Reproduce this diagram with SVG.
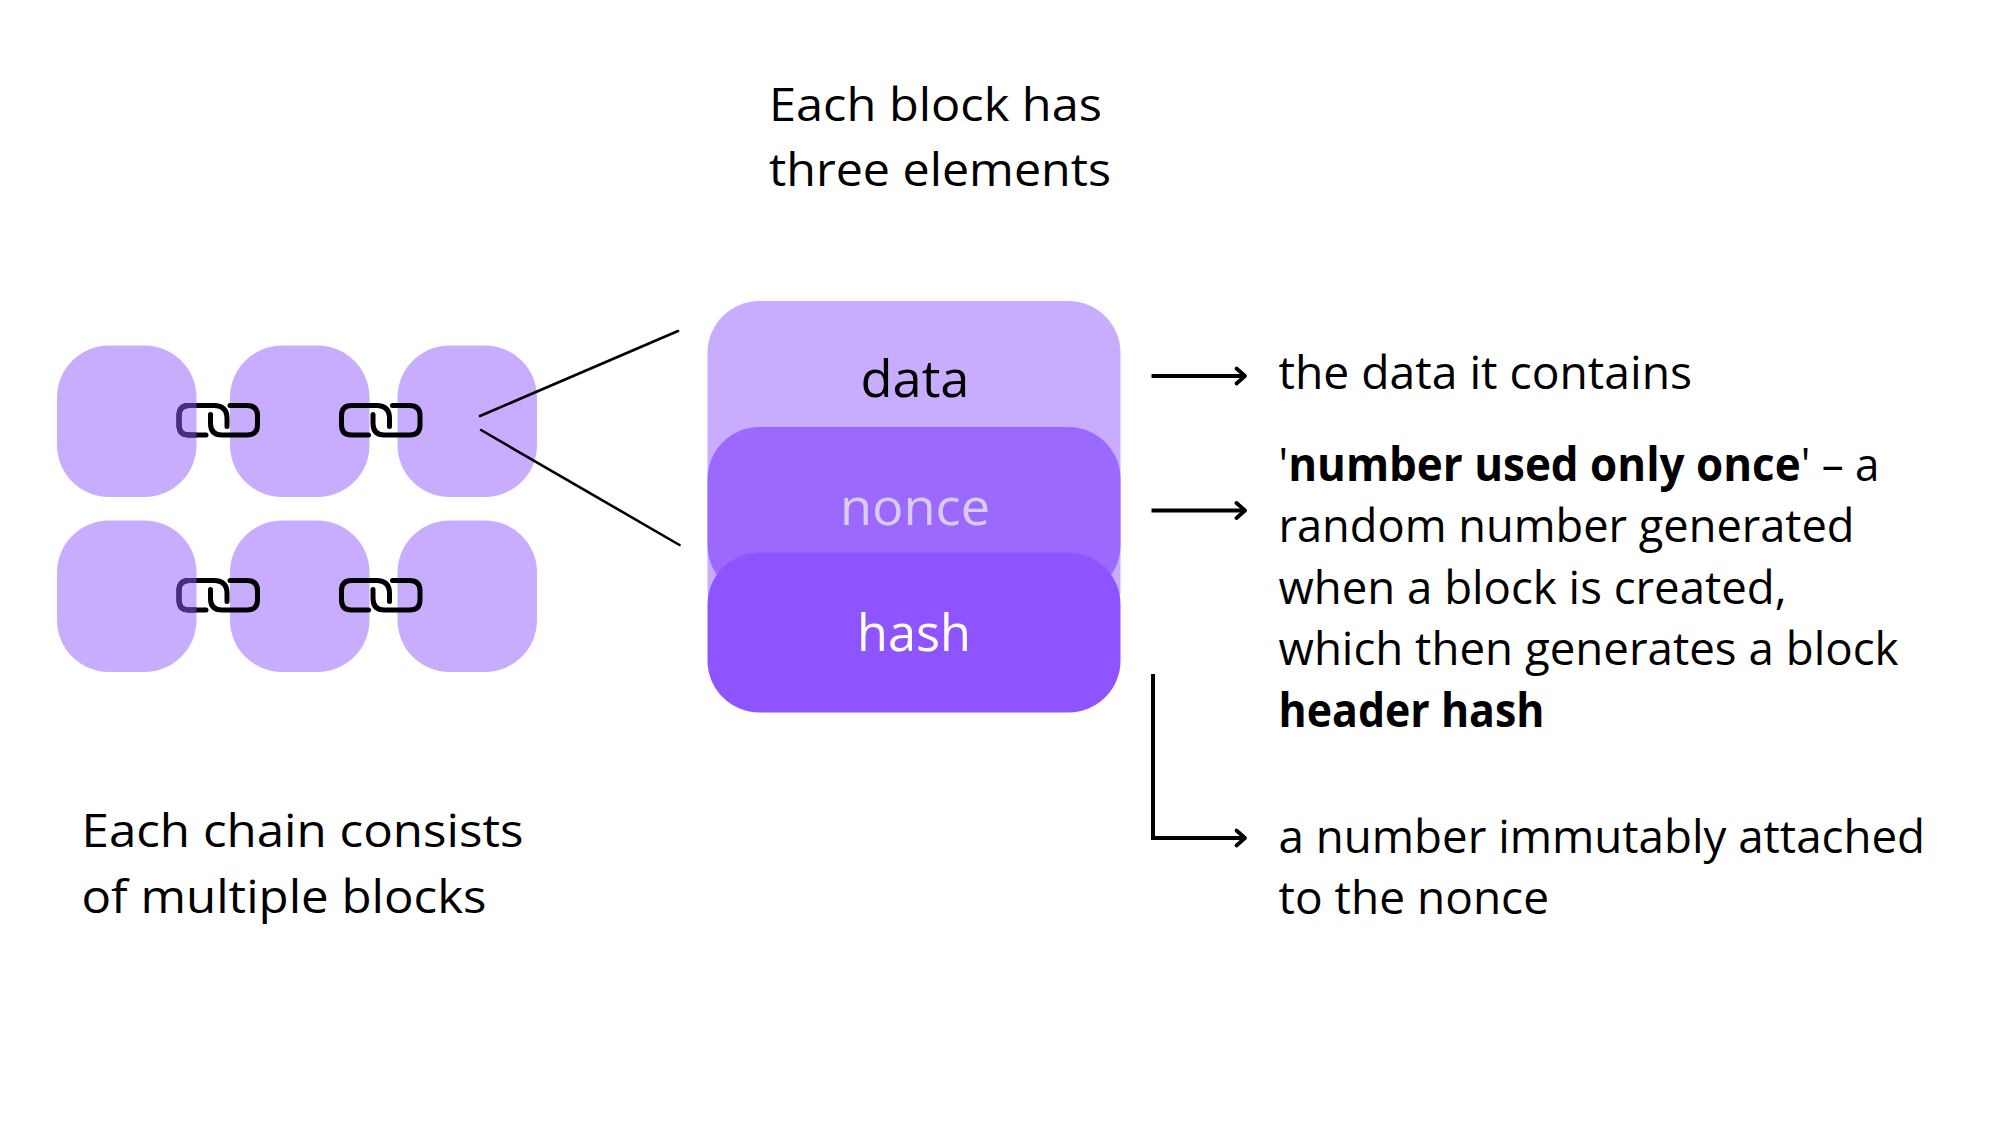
<svg xmlns="http://www.w3.org/2000/svg" width="1999" height="1125" viewBox="0 0 1999 1125">
<style>
.t{font-family:"Open Sans","Noto Sans",sans-serif;font-size:46px;fill:#000}
.c{font-size:52px;text-anchor:middle}
.b{font-weight:700}
.blk{fill:#C8ADFF}
.fan{fill:none;stroke:#000;stroke-width:2.6;stroke-linecap:round}
.arr{fill:none;stroke:#000;stroke-width:4;marker-end:url(#head)}
.lk{fill:none;stroke:#000;stroke-width:5;stroke-linecap:round}
</style>
<defs>
<marker id="head" markerUnits="userSpaceOnUse" markerWidth="20" markerHeight="24" refX="13" refY="12" orient="auto">
<path d="M4.500 4.500L13 12L4.500 19.500" fill="none" stroke="#000" stroke-width="3.800" stroke-linecap="round" stroke-linejoin="round"/>
</marker>
<g id="link">
<path d="M29 31.500H12Q2 31.500 2 21.500V12Q2 2 12 2H37Q50 2 50 15V23"/>
<path d="M53 2H70Q80.500 2 80.500 12V21.500Q80.500 31.500 70 31.500H45Q33.500 31.500 33.500 20V11"/>
</g>
<clipPath id="clipL"><rect x="150" y="390" width="46.500" height="300"/></clipPath>
</defs>
<rect width="1999" height="1125" fill="#fff"/>
<g id="blocks">
<rect id="block-1" class="blk" x="57" y="345.500" width="139.500" height="151.500" rx="52" ry="52"/>
<rect id="block-2" class="blk" x="230" y="345.500" width="139.500" height="151.500" rx="52" ry="52"/>
<rect id="block-3" class="blk" x="397.500" y="345.500" width="139.500" height="151.500" rx="52" ry="52"/>
<rect id="block-4" class="blk" x="57" y="520.500" width="139.500" height="151.500" rx="52" ry="52"/>
<rect id="block-5" class="blk" x="230" y="520.500" width="139.500" height="151.500" rx="52" ry="52"/>
<rect id="block-6" class="blk" x="397.500" y="520.500" width="139.500" height="151.500" rx="52" ry="52"/>
</g>
<g id="links" class="lk">
<use href="#link" x="177" y="403.500"/>
<use href="#link" x="339.500" y="403.500"/>
<use href="#link" x="177" y="578.500"/>
<use href="#link" x="339.500" y="578.500"/>
<g clip-path="url(#clipL)" style="stroke:#4A2C85">
<use href="#link" x="177" y="403.500"/>
<use href="#link" x="177" y="578.500"/>
</g>
</g>
<g id="stack">
<g id="data"><rect x="707.500" y="301" width="413" height="340" rx="52" ry="52" fill="#C8ADFF"/></g>
<g id="nonce"><rect x="707.500" y="427" width="413" height="170" rx="52" ry="52" fill="#9C69FF"/></g>
<g id="hash"><rect x="707.500" y="552.500" width="413" height="160" rx="52" ry="52" fill="#8E54FF"/></g>
<text class="t c" x="915" y="397" textLength="109" lengthAdjust="spacingAndGlyphs">data</text>
<text class="t c" x="915" y="525" textLength="150" lengthAdjust="spacingAndGlyphs" style="fill:#D8CCF0">nonce</text>
<text class="t c" x="914" y="651" textLength="114" lengthAdjust="spacingAndGlyphs" style="fill:#fff">hash</text>
</g>
<g id="connectors">
<path class="fan" d="M480 416L678 331"/>
<path class="fan" d="M481 430L679.500 545"/>
<path class="arr" d="M1151.500 376H1245"/>
<path class="arr" d="M1151.500 510.500H1245"/>
<path class="arr" d="M1153 674V838H1245" style="stroke-linejoin:miter"/>
</g>
<g id="labels">
<text class="t" x="769" y="121" textLength="333" lengthAdjust="spacingAndGlyphs">Each block has</text>
<text class="t" x="769" y="186" textLength="342" lengthAdjust="spacingAndGlyphs">three elements</text>
<text class="t" x="81.500" y="847" textLength="442" lengthAdjust="spacingAndGlyphs">Each chain consists</text>
<text class="t" x="81.500" y="913" textLength="405" lengthAdjust="spacingAndGlyphs">of multiple blocks</text>
<text class="t" x="1278.500" y="389" textLength="413.500" lengthAdjust="spacingAndGlyphs">the data it contains</text>
<text class="t" x="1278.500" y="481" textLength="601" lengthAdjust="spacingAndGlyphs">'<tspan class="b">number used only once</tspan>' – a</text>
<text class="t" x="1278.500" y="542" textLength="576" lengthAdjust="spacingAndGlyphs">random number generated</text>
<text class="t" x="1278.500" y="603.500" textLength="508" lengthAdjust="spacingAndGlyphs">when a block is created,</text>
<text class="t" x="1278.500" y="665" textLength="620" lengthAdjust="spacingAndGlyphs">which then generates a block</text>
<text class="t b" x="1278.500" y="727" textLength="266" lengthAdjust="spacingAndGlyphs">header hash</text>
<text class="t" x="1278.500" y="853" textLength="646.500" lengthAdjust="spacingAndGlyphs">a number immutably attached</text>
<text class="t" x="1278.500" y="914" textLength="270.500" lengthAdjust="spacingAndGlyphs">to the nonce</text>
</g>
</svg>
